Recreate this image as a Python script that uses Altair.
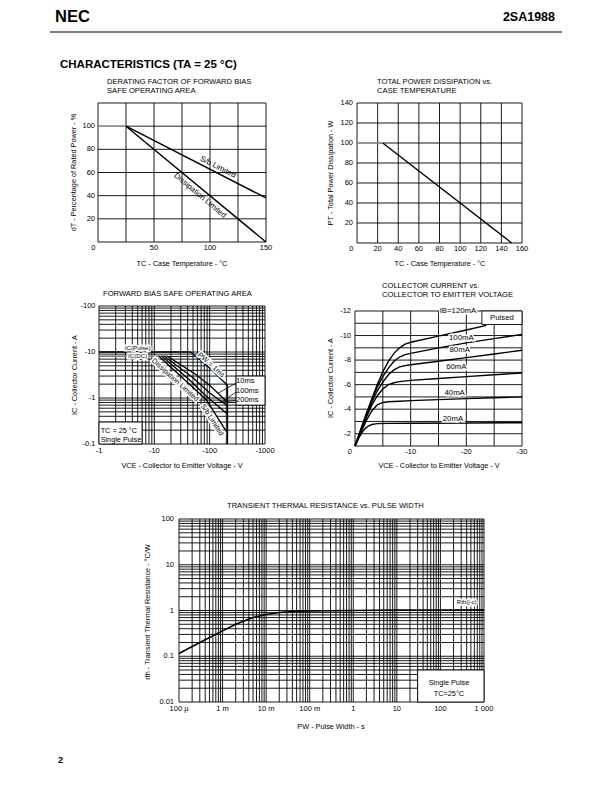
import altair as alt
import pandas as pd

FONT = "Liberation Sans"
W, H = 596, 770

# ======================= DATA =======================
# Chart 1 : derating factor of forward bias SOA (Tc in degC, %)
der_flat_x = [0, 25]
der_flat_y = [100, 100]
der_sb_x = [25, 150]
der_sb_y = [100, 38]
der_dis_x = [25, 150]
der_dis_y = [100, 0]
der_lbl_x = [107, 91]
der_lbl_y = [64.5, 40]
der_lbl_t = ["S/b Limited", "Dissipation Limited"]
der_lbl_a = [27, 40]

# Chart 2 : total power dissipation (Tc in degC, W)
pt_flat_x = [0, 25]
pt_flat_y = [100, 100]
pt_x = [25, 150]
pt_y = [100, 0]

# Chart 3 : forward bias SOA (magnitudes; axes are labelled negative)
soa_icp_x = [1, 45]
soa_icp_y = [10, 10]
soa_icdc_x = [1, 17]
soa_icdc_y = [8.2, 8.2]
soa_1ms_x = [45, 57, 100, 200, 210, 210]
soa_1ms_y = [10, 8.0, 4.5, 2.0, 1.9, 0.1]
soa_10ms_x = [17, 57, 107, 188, 210]
soa_10ms_y = [8.2, 3.2, 1.75, 0.92, 0.8]
soa_100ms_x = [15, 50, 100, 210]
soa_100ms_y = [8.2, 2.75, 1.29, 0.68]
soa_200ms_x = [13.5, 43, 87, 210]
soa_200ms_y = [8.2, 2.5, 1.09, 0.45]
soa_dc_x = [12, 87, 210]
soa_dc_y = [8.2, 0.92, 0.17]
soa_rot_t = ["PW = 1ms", "Dissipation Limited", "S/b Limited"]
soa_rot_x = [106, 23.7, 110]
soa_rot_y = [5.2, 2.46, 0.333]
soa_rot_a = [42, 42, 57]
soa_ic_t = ["IC(Pulse)", "IC(DC)"]
soa_ic_x = [5.0, 5.0]
soa_ic_y = [12.3, 8.0]
soa_pw_t = ["10ms", "100ms", "200ms"]
soa_pw_x = [300, 300, 300]
soa_pw_y = [2.3, 1.42, 0.9]
soa_lead_x0 = [300, 300, 300]
soa_lead_y0 = [2.1, 1.35, 0.88]
soa_lead_x1 = [142, 168, 120]
soa_lead_y1 = [1.27, 0.82, 0.79]
soa_box_x = [[1, 6], [300, 1000]]
soa_box_y = [[0.1, 0.3], [0.7, 3.0]]
soa_note_t = ["TC = 25 \u00b0C", "Single Pulse"]
soa_note_x = [1.07, 1.07]
soa_note_y = [0.19, 0.125]

# Chart 4 : Ic - Vce (magnitudes; axes labelled negative)
vce_120 = [0, 1, 2, 3, 4, 5, 6, 7, 8, 9, 10, 15, 20, 23.6]
ic_120 = [1, 2.3, 3.6, 4.8, 6.0, 7.05, 7.9, 8.55, 9.0, 9.3, 9.45, 9.95, 10.45, 10.83]
vce_100 = [0, 1, 2, 3, 4, 5, 6, 7, 8, 9, 10, 15, 20, 25, 30]
ic_100 = [1, 2.25, 3.5, 4.7, 5.8, 6.65, 7.35, 7.9, 8.25, 8.45, 8.55, 9.0, 9.4, 9.75, 10.1]
vce_80 = [0, 1, 2, 3, 4, 5, 6, 7, 8, 9, 10, 15, 20, 25, 30]
ic_80 = [1, 2.2, 3.4, 4.55, 5.5, 6.2, 6.8, 7.2, 7.45, 7.55, 7.62, 7.9, 8.2, 8.5, 8.8]
vce_60 = [0, 1, 2, 3, 4, 5, 6, 7, 8, 10, 15, 20, 25, 30]
ic_60 = [1, 2.15, 3.3, 4.3, 5.1, 5.65, 6.0, 6.15, 6.25, 6.35, 6.5, 6.65, 6.8, 6.95]
vce_40 = [0, 1, 2, 3, 4, 5, 6, 8, 10, 15, 20, 25, 30]
ic_40 = [1, 2.05, 3.05, 3.85, 4.35, 4.55, 4.6, 4.65, 4.7, 4.78, 4.86, 4.93, 5.0]
vce_20 = [0, 0.5, 1, 1.5, 2, 2.5, 3, 4, 6, 10, 20, 30]
ic_20 = [1, 1.5, 1.9, 2.25, 2.5, 2.65, 2.75, 2.82, 2.84, 2.85, 2.88, 2.9]
ib_lbl_t = ["IB=120mA", "100mA", "80mA", "60mA", "40mA", "20mA"]
ib_lbl_x = [18.5, 19.1, 18.8, 18.2, 17.9, 17.6]
ib_lbl_y = [12.0, 9.83, 8.8, 7.44, 5.35, 3.23]
pulsed_box_x = [22.8, 30]
pulsed_box_y = [10.9, 12]

# Chart 5 : transient thermal resistance
pw_s = [1e-4, 3e-4, 1e-3, 2e-3, 5e-3, 0.01, 0.02, 0.05, 0.1, 1, 10, 100, 1000]
rth = [0.115, 0.2, 0.36, 0.5, 0.7, 0.82, 0.9, 0.96, 0.98, 1.0, 1.02, 1.03, 1.04]
rth_box_x = [30, 1000]
rth_box_y = [0.01, 0.05]
rth_note_t = ["Single Pulse", "TC=25\u00b0C"]
rth_note_x = [157, 157]
rth_note_y = [0.026, 0.015]

# grid values
g1x = [0, 25, 50, 75, 100, 125, 150]
g1y = [0, 20, 40, 60, 80, 100, 120]
g2x = [0, 20, 40, 60, 80, 100, 120, 140, 160]
g2y = [0, 20, 40, 60, 80, 100, 120, 140]
g3x = [k * 10 ** n for n in range(0, 3) for k in range(1, 10)] + [1000]
g3y = [k * 10.0 ** n for n in range(-1, 2) for k in range(1, 10)] + [100]
g4x = [0, 5, 10, 15, 20, 25, 30]
g4y = list(range(1, 13))
g5x = [k * 10.0 ** n for n in range(-4, 3) for k in range(1, 10)] + [1000]
g5y = [k * 10.0 ** n for n in range(-2, 2) for k in range(1, 10)] + [100]

# tick labels
t1x_v = [50, 100, 150]
t1x_l = ["50", "100", "150"]
t1y_v = [20, 40, 60, 80, 100]
t1y_l = ["20", "40", "60", "80", "100"]
t2x_v = [20, 40, 60, 80, 100, 120, 140, 160]
t2x_l = ["20", "40", "60", "80", "100", "120", "140", "160"]
t2y_v = [20, 40, 60, 80, 100, 120, 140]
t2y_l = ["20", "40", "60", "80", "100", "120", "140"]
t3x_v = [1, 10, 100, 1000]
t3x_l = ["-1", "-10", "-100", "-1000"]
t3y_v = [0.1, 1, 10, 100]
t3y_l = ["-0.1", "-1", "-10", "-100"]
t4x_v = [10, 20, 30]
t4x_l = ["-10", "-20", "-30"]
t4y_v = [2, 4, 6, 8, 10, 12]
t4y_l = ["-2", "-4", "-6", "-8", "-10", "-12"]
t5x_v = [1e-4, 1e-3, 0.01, 0.1, 1, 10, 100, 1000]
t5x_l = ["100 \u00b5", "1 m", "10 m", "100 m", "1", "10", "100", "1 000"]
t5y_v = [0.01, 0.1, 1, 10, 100]
t5y_l = ["0.01", "0.1", "1", "10", "100"]


# ======================= HELPERS =======================
def line_df(series):
    rows = []
    for name, xs, ys in series:
        for i, (a, b) in enumerate(zip(xs, ys)):
            rows.append({"s": name, "o": i, "x": a, "y": b})
    return pd.DataFrame(rows)


def lin(dom, rng):
    return alt.Scale(type="linear", domain=dom, range=rng, nice=False, zero=False)


def logs(dom, rng):
    return alt.Scale(type="log", domain=dom, range=rng, nice=False)


def panel(xs, ys, xdom, ydom, xgrid, ygrid, extra):
    vg = pd.DataFrame({"x": xgrid, "y0": [ydom[0]] * len(xgrid), "y1": [ydom[1]] * len(xgrid)})
    hg = pd.DataFrame({"y": ygrid, "x0": [xdom[0]] * len(ygrid), "x1": [xdom[1]] * len(ygrid)})
    v = alt.Chart(vg).mark_rule(color="black", strokeWidth=0.9).encode(
        x=alt.X("x:Q", scale=xs, axis=None),
        y=alt.Y("y0:Q", scale=ys, axis=None), y2="y1:Q")
    h = alt.Chart(hg).mark_rule(color="black", strokeWidth=0.9).encode(
        y=alt.Y("y:Q", scale=ys, axis=None),
        x=alt.X("x0:Q", scale=xs, axis=None), x2="x1:Q")
    return alt.layer(v, h, *extra)


def curves(df, xs, ys, color="black", width=1.4):
    return alt.Chart(df).mark_line(color=color, strokeWidth=width).encode(
        x=alt.X("x:Q", scale=xs, axis=None), y=alt.Y("y:Q", scale=ys, axis=None),
        detail="s:N", order="o:Q")


def texts(xv, yv, tv, xs, ys, size, av=None, halo=True, align="center", dx=0, dy=0):
    d = {"x": xv, "y": yv, "t": tv}
    if av is not None:
        d["a"] = av
    df = pd.DataFrame(d)
    enc = dict(x=alt.X("x:Q", scale=xs, axis=None), y=alt.Y("y:Q", scale=ys, axis=None),
               text="t:N")
    if av is not None:
        enc["angle"] = alt.Angle("a:Q", scale=None)
    out = []
    if halo:
        out.append(alt.Chart(df).mark_text(font=FONT, fontSize=size, align=align, dx=dx, dy=dy,
                                           baseline="middle", color="white",
                                           stroke="white", strokeWidth=3).encode(**enc))
    out.append(alt.Chart(df).mark_text(font=FONT, fontSize=size, align=align, dx=dx, dy=dy,
                                       baseline="middle", color="black").encode(**enc))
    return out


def xticks(vals, labs, xs, ys, ybase, dy, size=7.5):
    return texts(vals, [ybase] * len(vals), labs, xs, ys, size, halo=False, dy=dy)


def yticks(vals, labs, xs, ys, xbase, dx, size=7.5):
    return texts([xbase] * len(vals), vals, labs, xs, ys, size, halo=False, align="right", dx=dx)


def boxes(bx, by, xs, ys, stroke="black"):
    df = pd.DataFrame({"x": [b[0] for b in bx], "x2": [b[1] for b in bx],
                       "y": [b[0] for b in by], "y2": [b[1] for b in by]})
    return alt.Chart(df).mark_rect(fill="white", stroke=stroke, strokeWidth=0.9).encode(
        x=alt.X("x:Q", scale=xs, axis=None), x2="x2:Q",
        y=alt.Y("y:Q", scale=ys, axis=None), y2="y2:Q")


# ======================= CHART 1 =======================
x1 = lin([0, 150], [90, 258])
y1 = lin([0, 120], [234, 95])
c1 = panel(
    x1, y1, [0, 150], [0, 120], g1x, g1y,
    [curves(line_df([("f", der_flat_x, der_flat_y)]), x1, y1, color="#999999", width=1.4),
     curves(line_df([("sb", der_sb_x, der_sb_y), ("dis", der_dis_x, der_dis_y)]), x1, y1),
     *texts(der_lbl_x, der_lbl_y, der_lbl_t, x1, y1, 7.8, av=der_lbl_a, halo=False),
     *xticks(t1x_v, t1x_l, x1, y1, 0, 6),
     *texts([0], [0], ["0"], x1, y1, 7.5, halo=False, align="right", dx=-2.5, dy=6),
     *yticks(t1y_v, t1y_l, x1, y1, 0, -3)])

# ======================= CHART 2 =======================
x2 = lin([0, 160], [349, 514])
y2 = lin([0, 140], [235, 95])
c2 = panel(
    x2, y2, [0, 160], [0, 140], g2x, g2y,
    [curves(line_df([("f", pt_flat_x, pt_flat_y)]), x2, y2, color="#999999", width=1.4),
     curves(line_df([("p", pt_x, pt_y)]), x2, y2),
     *xticks(t2x_v, t2x_l, x2, y2, 0, 6),
     *texts([0], [0], ["0"], x2, y2, 7.5, halo=False, align="right", dx=-3.5, dy=6),
     *yticks(t2y_v, t2y_l, x2, y2, 0, -4)])

# ======================= CHART 3 =======================
x3 = logs([1, 1000], [91, 257])
y3 = logs([0.1, 100], [436, 298])
c3 = panel(
    x3, y3, [1, 1000], [0.1, 100], g3x, g3y,
    [boxes(soa_box_x, soa_box_y, x3, y3),
     curves(line_df([("dc", soa_icdc_x, soa_icdc_y)]), x3, y3, color="#999999", width=1.4),
     curves(line_df([("p", soa_icp_x, soa_icp_y), ("1ms", soa_1ms_x, soa_1ms_y),
                     ("10ms", soa_10ms_x, soa_10ms_y), ("100ms", soa_100ms_x, soa_100ms_y),
                     ("200ms", soa_200ms_x, soa_200ms_y), ("dcl", soa_dc_x, soa_dc_y)]),
            x3, y3, width=1.3),
     curves(line_df([(str(i), [a, b], [c, d]) for i, (a, b, c, d) in
                     enumerate(zip(soa_lead_x0, soa_lead_x1, soa_lead_y0, soa_lead_y1))]),
            x3, y3, width=0.8),
     *texts(soa_rot_x, soa_rot_y, soa_rot_t, x3, y3, 7.2, av=soa_rot_a),
     *texts(soa_ic_x, soa_ic_y, soa_ic_t, x3, y3, 6.2),
     *texts(soa_pw_x, soa_pw_y, soa_pw_t, x3, y3, 7.5, halo=False, align="left"),
     *texts(soa_note_x, soa_note_y, soa_note_t, x3, y3, 7.3, halo=False, align="left"),
     *xticks(t3x_v, t3x_l, x3, y3, 0.1, 7),
     *yticks(t3y_v, t3y_l, x3, y3, 1, -3.5)])

# ======================= CHART 4 =======================
x4 = lin([0, 30], [347, 514])
y4 = lin([1, 12], [438, 303])
ib_df = line_df([("120", vce_120, ic_120), ("100", vce_100, ic_100), ("80", vce_80, ic_80),
                 ("60", vce_60, ic_60), ("40", vce_40, ic_40), ("20", vce_20, ic_20)])
c4 = panel(
    x4, y4, [0, 30], [1, 12], g4x, g4y,
    [curves(ib_df, x4, y4, width=1.4),
     boxes([pulsed_box_x], [pulsed_box_y], x4, y4),
     *texts([26.4], [11.45], ["Pulsed"], x4, y4, 7.8, halo=False),
     *texts(ib_lbl_x, ib_lbl_y, ib_lbl_t, x4, y4, 7.8),
     *xticks(t4x_v, t4x_l, x4, y4, 1, 6),
     *texts([0], [1], ["0"], x4, y4, 7.5, halo=False, align="right", dx=-3, dy=6),
     *yticks(t4y_v, t4y_l, x4, y4, 0, -4)])

# ======================= CHART 5 =======================
x5 = logs([1e-4, 1000], [171, 476])
y5 = logs([0.01, 100], [694, 511])
c5 = panel(
    x5, y5, [1e-4, 1000], [0.01, 100], g5x, g5y,
    [curves(line_df([("r", pw_s, rth)]), x5, y5, width=1.5),
     boxes([rth_box_x], [rth_box_y], x5, y5),
     *texts(rth_note_x, rth_note_y, rth_note_t, x5, y5, 7.3, halo=False),
     *texts([400], [1.5], ["Rth(j-c)"], x5, y5, 6),
     *xticks(t5x_v, t5x_l, x5, y5, 0.01, 7),
     *yticks(t5y_v, t5y_l, x5, y5, 1e-4, -5)])

# ======================= PAGE TEXT =======================
one = pd.DataFrame({"k": [0]})


def fixed(txt, x, y, size, weight="normal", align="left", baseline="middle", angle=0):
    return alt.Chart(one).mark_text(font=FONT, fontSize=size, fontWeight=weight, angle=angle,
                                    align=align, baseline=baseline, color="black").encode(
        x=alt.value(x), y=alt.value(y), text=alt.value(txt))


TS = 7.3
page = [
    fixed("NEC", 47, 14, 16.5, "bold", baseline="alphabetic"),
    fixed("2SA1988", 547, 13, 12.5, "bold", align="right", baseline="alphabetic"),
    alt.Chart(one).mark_rule(color="black", strokeWidth=1).encode(
        x=alt.value(42), x2=alt.value(554), y=alt.value(24)),
    fixed("CHARACTERISTICS (TA = 25 \u00b0C)", 52, 60, 11.5, "bold", baseline="alphabetic"),
    fixed("DERATING FACTOR OF FORWARD BIAS", 99, 74, 7.6),
    fixed("SAFE OPERATING AREA", 99, 83, 7.6),
    fixed("TOTAL POWER DISSIPATION vs.", 369, 74, 7.6),
    fixed("CASE TEMPERATURE", 369, 83, 7.6),
    fixed("FORWARD BIAS SAFE OPERATING AREA", 95, 286, 7.6),
    fixed("COLLECTOR CURRENT vs.", 374, 278, 7.6),
    fixed("COLLECTOR TO EMITTER VOLTAGE", 374, 287, 7.6),
    fixed("TRANSIENT THERMAL RESISTANCE vs. PULSE WIDTH", 219, 498, 7.6),
    # axis titles
    fixed("dT - Percentage of Rated Power - %", 66, 164.5, TS, align="center", angle=270),
    fixed("TC - Case Temperature - \u00b0C", 174, 256, TS, align="center"),
    fixed("PT - Total Power Dissipation - W", 323, 165, TS, align="center", angle=270),
    fixed("TC - Case Temperature - \u00b0C", 432, 256, TS, align="center"),
    fixed("IC - Collector Current - A", 67, 367, TS, align="center", angle=270),
    fixed("VCE - Collector to Emitter Voltage - V", 174, 458, TS, align="center"),
    fixed("IC -  Collector Current - A", 323, 370, TS, align="center", angle=270),
    fixed("VCE - Collector to Emitter Voltage - V", 431, 458, TS, align="center"),
    fixed("rth -  Transient Thermal Resistance - \u00b0C/W", 140, 604, TS, align="center", angle=270),
    fixed("PW -  Pulse Width -  s", 323, 719, TS, align="center"),
    fixed("2", 50, 755, 9, "bold", baseline="alphabetic"),
]

chart = alt.layer(c1, c2, c3, c4, c5, *page).resolve_scale(
    x="independent", y="independent").properties(
    width=W, height=H, padding=0, background="white",
    autosize=alt.AutoSizeParams(type="none")).configure_view(strokeWidth=0)

chart.save("out.html", embed_options={"renderer": "svg", "actions": False})
